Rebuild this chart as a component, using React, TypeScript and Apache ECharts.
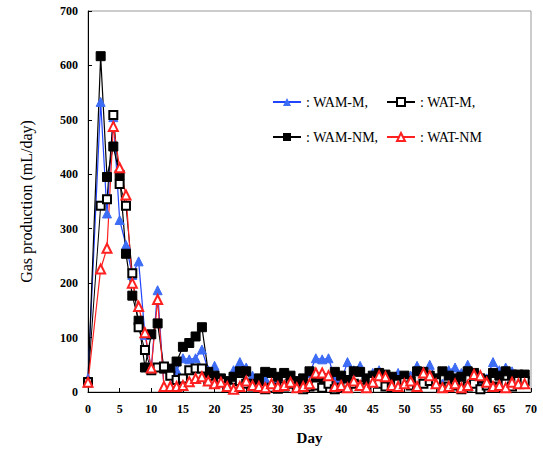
import React, { useEffect, useRef } from "react";
import * as echarts from "echarts";

const days: number[] = [0, 2, 3, 4, 5, 6, 7, 8, 9, 10, 11, 12, 13, 14, 15, 16, 17, 18, 19,
  20, 21, 22, 23, 24, 25, 26, 27, 28, 29, 30, 31, 32, 33, 34, 35, 36, 37, 38, 39,
  40, 41, 42, 43, 44, 45, 46, 47, 48, 49, 50, 51, 52, 53, 54, 55, 56, 57, 58, 59,
  60, 61, 62, 63, 64, 65, 66, 67, 68, 69];

const wamM: number[] = [25, 533, 328, 505, 316, 270, 215, 240, 105, 43, 187, 10, 10, 40, 62, 60, 62, 78, 40,
  48, 25, 15, 40, 55, 45, 30, 12, 25, 15, 20, 35, 20, 15, 20, 35, 62, 60, 62, 25,
  20, 55, 40, 48, 22, 35, 40, 30, 15, 35, 25, 30, 48, 35, 50, 25, 15, 40, 45, 35,
  50, 30, 10, 25, 55, 40, 45, 38, 30, 25];

const wamNM: number[] = [18, 617, 395, 451, 399, 254, 177, 131, 45, 106, 126, 43, 43, 56, 83, 90, 102, 119, 37,
  30, 25, 20, 28, 38, 38, 15, 25, 37, 35, 28, 35, 30, 20, 25, 38, 25, 25, 22, 37,
  30, 22, 38, 37, 25, 30, 35, 32, 28, 22, 30, 20, 38, 37, 30, 25, 38, 30, 25, 28,
  38, 35, 25, 22, 35, 30, 38, 32, 32, 32];

const watM: number[] = [18, 342, 354, 509, 382, 342, 218, 119, 77, 40, 45, 47, 30, 22, 25, 40, 43, 43, 20,
  15, 18, 10, 8, 20, 15, 10, 8, 5, 8, 6, 10, 15, 8, 5, 10, 12, 8, 15, 5,
  8, 10, 15, 12, 8, 20, 15, 10, 8, 15, 18, 12, 8, 15, 20, 18, 8, 10, 12, 5,
  10, 15, 5, 12, 10, 8, 15, 10, 20, 20];

const watNM: number[] = [18, 226, 264, 488, 412, 362, 200, 157, 109, 44, 170, 10, 10, 10, 12, 19, 25, 28, 20,
  15, 18, 10, 5, 10, 20, 12, 10, 8, 15, 10, 12, 18, 8, 10, 15, 35, 35, 30, 10,
  12, 8, 20, 12, 8, 18, 30, 28, 12, 10, 15, 20, 10, 35, 30, 15, 8, 10, 15, 8,
  12, 32, 30, 18, 10, 12, 8, 18, 15, 15];

const legendText: Record<string, string> = {
  "WAM-M": ": WAM-M,",
  "WAT-M": ": WAT-M,",
  "WAM-NM": ": WAM-NM,",
  "WAT-NM": ": WAT-NM",
};

const pairs = (vals: number[]) => days.map((d, i) => [d, vals[i]]);

export default function App() {
  const ref = useRef<HTMLDivElement>(null);
  useEffect(() => {
    document.body.style.margin = "0";
    if (!ref.current) return;
    const chart = echarts.init(ref.current, null, { renderer: "svg" });
    const serif = "Liberation Serif";
    const legendBase = {
      orient: "vertical" as const,
      top: 90,
      itemWidth: 28,
      itemHeight: 10,
      itemGap: 21,
      formatter: (n: string) => "{s|" + (legendText[n] || n) + "}",
      textStyle: {
        fontFamily: serif,
        fontSize: 14,
        color: "#000",
        rich: { s: { fontFamily: serif, fontSize: 14, color: "#000" } },
      },
    };
    chart.setOption({
      animation: false,
      backgroundColor: "#fff",
      textStyle: { fontFamily: serif },
      grid: {
        left: 88,
        right: 12,
        top: 11,
        bottom: 58,
        show: true,
        borderColor: "#999",
        borderWidth: 1,
      },
      legend: [
        { ...legendBase, left: 267, data: ["WAM-M", "WAM-NM"] },
        { ...legendBase, left: 381, data: ["WAT-M", "WAT-NM"] },
      ],
      xAxis: {
        type: "value",
        min: 0,
        max: 70,
        interval: 5,
        name: "Day",
        nameLocation: "middle",
        nameGap: 38,
        nameTextStyle: { fontFamily: serif, fontSize: 15, color: "#000", fontWeight: "bold" },
        axisLine: { lineStyle: { color: "#000", width: 1 } },
        axisTick: { inside: true, length: 4, lineStyle: { color: "#000" } },
        axisLabel: { fontFamily: serif, fontWeight: "bold", fontSize: 12, color: "#000", margin: 11 },
        splitLine: { show: false },
      },
      yAxis: {
        type: "value",
        min: 0,
        max: 700,
        interval: 100,
        name: "Gas production (mL/day)",
        nameLocation: "middle",
        nameGap: 54,
        nameTextStyle: { fontFamily: serif, fontSize: 16, color: "#000" },
        axisLine: { show: true, lineStyle: { color: "#000", width: 1 } },
        axisTick: { show: true, inside: true, length: 4, lineStyle: { color: "#000" } },
        axisLabel: { fontFamily: serif, fontWeight: "bold", fontSize: 12, color: "#000", margin: 10 },
        splitLine: { show: false },
      },
      series: [
        {
          name: "WAM-M",
          type: "line",
          data: pairs(wamM),
          symbol: "triangle",
          symbolSize: 9,
          lineStyle: { color: "#2244ff", width: 1.2 },
          itemStyle: { color: "#3d6cf5", borderColor: "#3d6cf5" },
        },
        {
          name: "WAM-NM",
          type: "line",
          data: pairs(wamNM),
          symbol: "rect",
          symbolSize: 9,
          lineStyle: { color: "#000", width: 1.2 },
          itemStyle: { color: "#000", borderColor: "#000" },
        },
        {
          name: "WAT-M",
          type: "line",
          data: pairs(watM),
          symbol: "emptyRect",
          symbolSize: 8,
          lineStyle: { color: "#000", width: 1 },
          itemStyle: { color: "#000", borderColor: "#000", borderWidth: 1 },
        },
        {
          name: "WAT-NM",
          type: "line",
          data: pairs(watNM),
          symbol: "emptyTriangle",
          symbolSize: 9,
          lineStyle: { color: "#ff2020", width: 1.2 },
          itemStyle: { color: "#ff2020", borderColor: "#ff2020", borderWidth: 1 },
        },
      ],
    });
    return () => chart.dispose();
  }, []);
  return <div ref={ref} style={{ width: 543, height: 450 }} />;
}
